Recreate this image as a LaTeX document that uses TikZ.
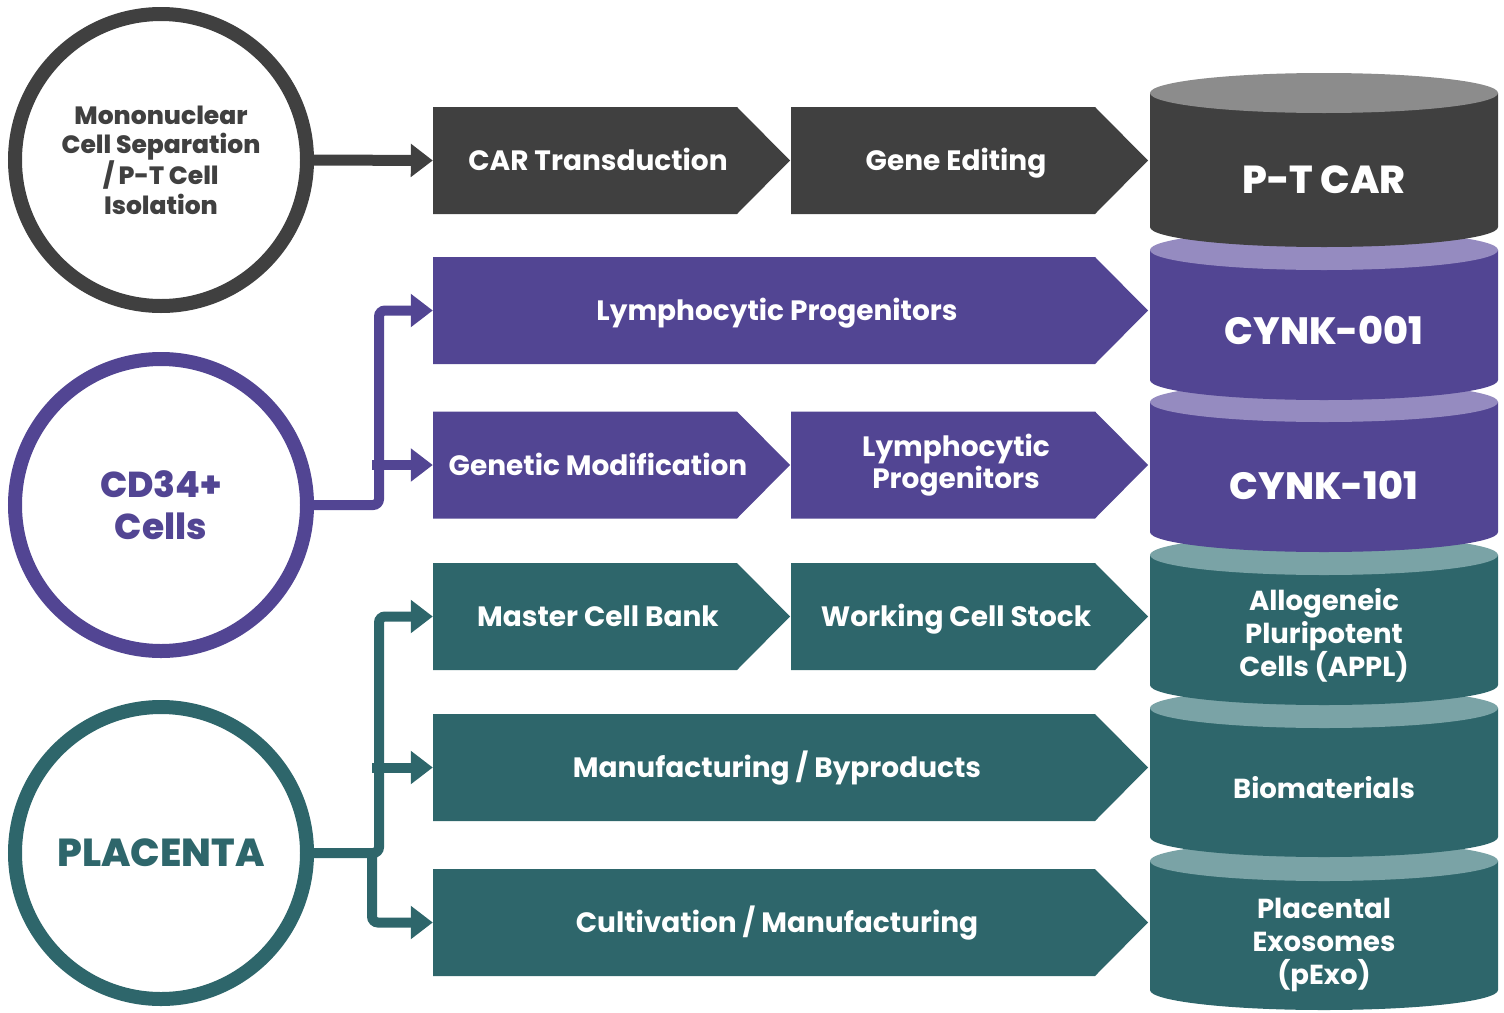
\documentclass[tikz,border=0pt]{standalone}
\usepackage{fontspec}
\setmainfont{Poppins}[UprightFont={* Bold},BoldFont={* ExtraBold}]
\usetikzlibrary{arrows.meta}
\definecolor{cgray}{HTML}{404040}
\definecolor{cgraytop}{HTML}{8C8C8C}
\definecolor{cpurple}{HTML}{524593}
\definecolor{cpurpletop}{HTML}{958BC0}
\definecolor{cteal}{HTML}{2E666B}
\definecolor{ctealtop}{HTML}{7AA3A6}
\newcommand{\chevpath}[4]{\fill[#4] (#1,#3-53.5) -- (#2,#3-53.5) -- (#2+53,#3) -- (#2,#3+53.5) -- (#1,#3+53.5) -- cycle;}
\newcommand{\cylpath}[4]{%
  \fill[#3] (1150,#1) -- (1150,#2) arc[start angle=180,end angle=0,x radius=174,y radius=20] -- (1498,#1) -- cycle;
  \fill[#4] (1324,#1) ellipse[x radius=174,y radius=20];}
\tikzset{
  circ/.style={circle, draw=#1, line width=14pt, minimum size=292pt, fill=white, text=#1, align=center, inner sep=0pt},
  boxtext/.style={text=white, align=center, inner sep=0pt, minimum height=107pt, font=\fontsize{28}{32}\selectfont},
  oneline/.style={text height=20pt, text depth=0pt},
  cyltext/.style={text=white, align=center, inner sep=0pt},
  conn/.style={draw=#1, line width=10pt, rounded corners=6pt, -{Triangle[length=22pt,width=32pt]}},
}
\begin{document}
\begin{tikzpicture}[x=1pt,y=-1pt]
\useasboundingbox (0,0) rectangle (1504,1012);
% circles
\node[circ=cgray, font=\fontsize{25}{29.3}\selectfont\bfseries] (c1) at (161,160) {Mononuclear\\Cell Separation\\/ P-T Cell\\Isolation};
\node[circ=cpurple, font=\fontsize{36}{42}\selectfont\bfseries] (c2) at (161,505) {CD34+\\Cells};
\node[circ=cteal, font=\fontsize{39}{42}\selectfont\bfseries] (c3) at (161,853) {PLACENTA};
% chevrons
\chevpath{433}{737}{160.5}{cgray}
\chevpath{791}{1095}{160.5}{cgray}
\chevpath{433}{1095}{310.5}{cpurple}
\chevpath{433}{737}{465}{cpurple}
\chevpath{791}{1095}{465}{cpurple}
\chevpath{433}{737}{616.5}{cteal}
\chevpath{791}{1095}{616.5}{cteal}
\chevpath{433}{1095}{767.5}{cteal}
\chevpath{433}{1095}{922.5}{cteal}
\node[boxtext, oneline, minimum width=330pt] (b1) at (598,160.5) {CAR Transduction};
\node[boxtext, oneline, minimum width=330pt] (b1b) at (956,160.5) {Gene Editing};
\node[boxtext, oneline, minimum width=688pt] (b2) at (777,310.5) {Lymphocytic Progenitors};
\node[boxtext, oneline, minimum width=330pt] (b3) at (598,465) {Genetic Modification};
\node[boxtext, minimum width=330pt] (b3b) at (956,465) {Lymphocytic\\Progenitors};
\node[boxtext, oneline, minimum width=330pt] (b4) at (598,616.5) {Master Cell Bank};
\node[boxtext, oneline, minimum width=330pt] (b4b) at (956,616.5) {Working Cell Stock};
\node[boxtext, oneline, minimum width=688pt] (b5) at (777,767.5) {Manufacturing / Byproducts};
\node[boxtext, oneline, minimum width=688pt] (b6) at (777,922.5) {Cultivation / Manufacturing};
% connectors
\draw[conn=cgray, line width=11pt] (c1.east) -- (b1.west);
\draw[conn=cpurple] (c2.east) -- ++(65,0) |- (b2.west);
\coordinate (pj) at (372,465);
\draw[conn=cpurple] (pj) -- (b3.west);
\draw[conn=cteal] (c3.east) -- ++(65,0) |- (b4.west);
\coordinate (tj) at (372,853);
\draw[conn=cteal] (tj) |- (b6.west);
\coordinate (tk) at (372,767.5);
\draw[conn=cteal] (tk) -- (b5.west);
% cylinders (bottom first)
\cylpath{861}{990}{cteal}{ctealtop}
\cylpath{708}{837}{cteal}{ctealtop}
\cylpath{555}{685}{cteal}{ctealtop}
\cylpath{402}{532}{cpurple}{cpurpletop}
\cylpath{250}{380}{cpurple}{cpurpletop}
\cylpath{93}{227}{cgray}{cgraytop}
\node[cyltext, font=\fontsize{39}{40}\selectfont\bfseries] (d1) at (1324,180) {P-T CAR};
\node[cyltext, font=\fontsize{38}{40}\selectfont\bfseries] (d2) at (1324,330) {CYNK-001};
\node[cyltext, font=\fontsize{38}{40}\selectfont\bfseries] (d3) at (1324,485) {CYNK-101};
\node[cyltext, font=\fontsize{27.5}{33}\selectfont] (d4) at (1324,635) {Allogeneic\\Pluripotent\\Cells (APPL)};
\node[cyltext, font=\fontsize{27.5}{33}\selectfont] (d5) at (1324,788) {Biomaterials};
\node[cyltext, font=\fontsize{27.5}{33}\selectfont] (d6) at (1324,945) {Placental\\Exosomes\\(pExo)};
\end{tikzpicture}
\end{document}
